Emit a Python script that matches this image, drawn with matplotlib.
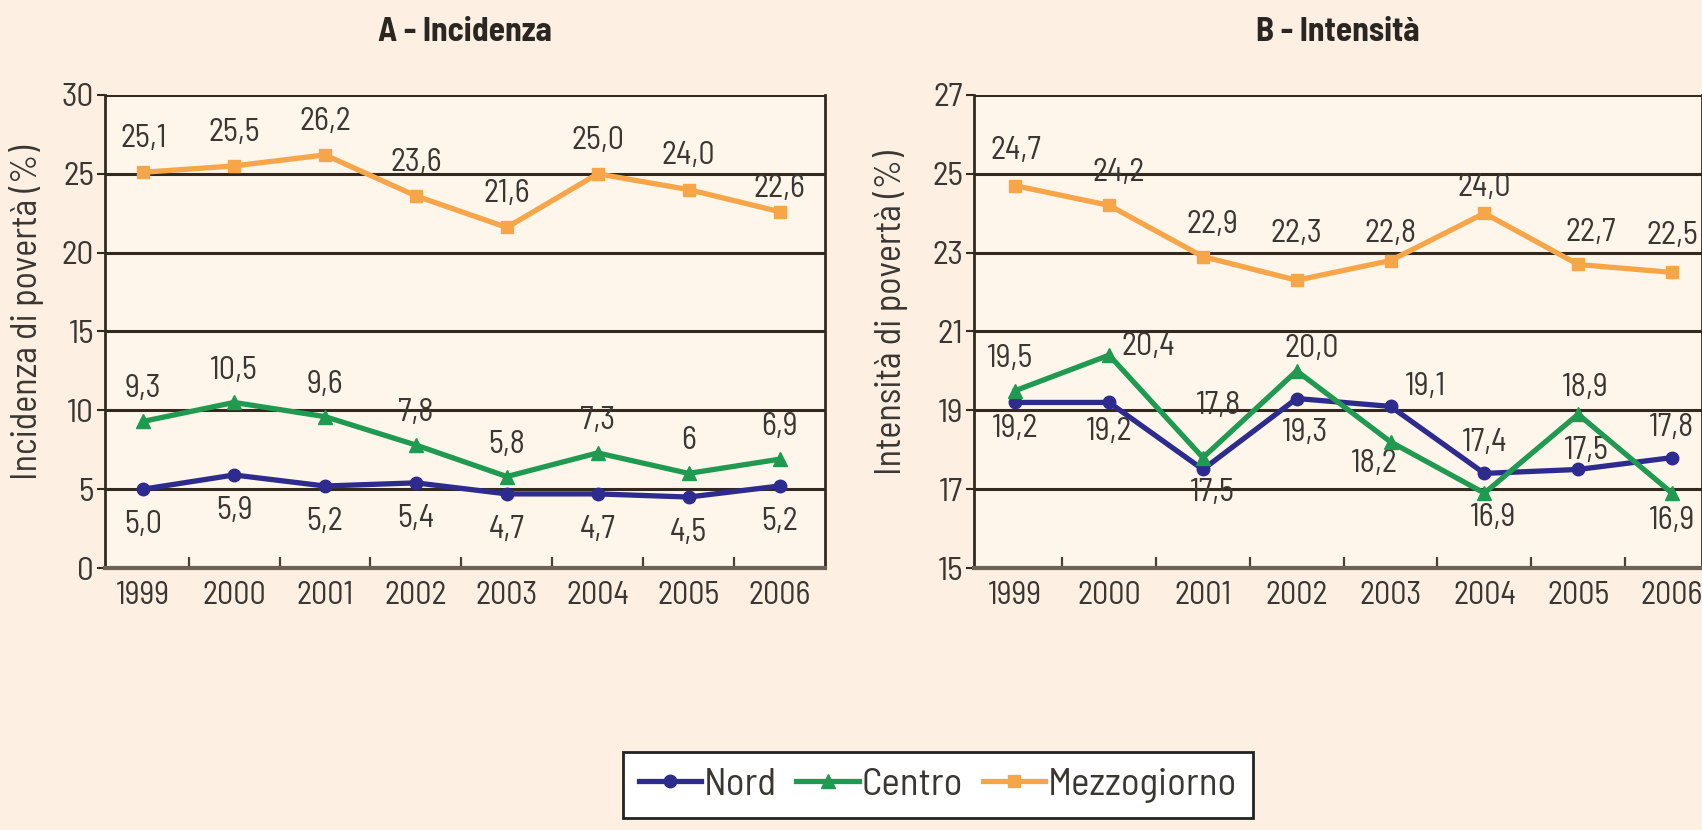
import matplotlib
matplotlib.use('Agg')
import matplotlib.pyplot as plt
from matplotlib.ticker import FixedLocator

# ---------------- data ----------------
years = ['1999', '2000', '2001', '2002', '2003', '2004', '2005', '2006']

inc_nord = [5.0, 5.9, 5.2, 5.4, 4.7, 4.7, 4.5, 5.2]
inc_centro = [9.3, 10.5, 9.6, 7.8, 5.8, 7.3, 6, 6.9]
inc_mezzo = [25.1, 25.5, 26.2, 23.6, 21.6, 25.0, 24.0, 22.6]

int_nord = [19.2, 19.2, 17.5, 19.3, 19.1, 17.4, 17.5, 17.8]
int_centro = [19.5, 20.4, 17.8, 20.0, 18.2, 16.9, 18.9, 16.9]
int_mezzo = [24.7, 24.2, 22.9, 22.3, 22.8, 24.0, 22.7, 22.5]

series_names = ['Nord', 'Centro', 'Mezzogiorno']

# ---------------- styles ----------------
FAM = ['Barlow Semi Condensed', 'Barlow Condensed', 'DejaVu Sans']
BG = '#fdf0e2'
AXBG = '#fef5eb'
GRID = '#33291f'
TXT = '#3a3632'
colors = {'Nord': '#2e2b8f', 'Centro': '#1f9a50', 'Mezzogiorno': '#f6a649'}
markers = {'Nord': 'o', 'Centro': '^', 'Mezzogiorno': 's'}
msizes = {'Nord': 9, 'Centro': 10, 'Mezzogiorno': 8}
LBL = 23

# label offsets in points (dx, dy)
left_offsets = {
    'Nord': [(0, -26)] * 8,
    'Centro': [(0, 23)] * 8,
    'Mezzogiorno': [(0, 24)] * 7 + [(0, 16)],
}
right_offsets = {
    'Nord': [(0, -19), (0, -21), (7, -17), (6, -25), (25, 14), (0, 22), (6, 13), (0, 21)],
    'Centro': [(-4, 23), (28, 6), (11, 37), (11, 16), (-12, -16), (6, -18), (5, 19), (0, -20)],
    'Mezzogiorno': [(0, 25), (7, 23), (7, 23), (0, 33), (0, 19), (0, 18), (9, 23), (0, 26)],
}


def fmt(v):
    if isinstance(v, int):
        return str(v)
    return f"{v:.1f}".replace('.', ',')


plt.rcParams['font.family'] = FAM

fig = plt.figure(figsize=(17.02, 8.30), dpi=100, facecolor=BG)

W, H = 1702.0, 830.0
axL = fig.add_axes([105 / W, 1 - 568 / H, 720 / W, (568 - 95) / H])
axR = fig.add_axes([974 / W, 1 - 568 / H, 728 / W, (568 - 95) / H])


def draw_panel(ax, data, offsets, ylim, yticks, xlim, title, ylabel, ylx):
    ax.set_facecolor(AXBG)
    x = list(range(len(years)))
    for name in series_names:
        vals = data[name]
        ax.plot(x, vals, color=colors[name], lw=3.8, marker=markers[name],
                ms=msizes[name], mec=colors[name], zorder=4)
        for xi, v, (dx, dy) in zip(x, vals, offsets[name]):
            ax.annotate(fmt(v), (xi, v), xytext=(dx, dy), textcoords='offset points',
                        ha='center', va='center', fontsize=LBL, color=TXT,
                        zorder=3)
    ax.set_ylim(*ylim)
    ax.set_xlim(*xlim)
    ax.set_yticks(yticks)
    ax.set_yticklabels([str(t) for t in yticks], fontsize=24, color=TXT)
    for t in yticks[1:]:
        ax.axhline(t, color=GRID, lw=2.2, zorder=1)
    ax.set_xticks(x)
    ax.set_xticklabels(years, fontsize=LBL, color=TXT)
    ax.xaxis.set_minor_locator(FixedLocator([i + 0.5 for i in range(len(years) - 1)]))
    ax.tick_params(axis='x', which='major', length=0, pad=9)
    ax.tick_params(axis='x', which='minor', length=8, width=1.6, direction='in',
                   color='#4a3f35')
    ax.tick_params(axis='y', length=6, width=1.5, direction='out', pad=2,
                   color='#33291f')
    for s in ['left', 'right']:
        ax.spines[s].set_color('#33291f')
        ax.spines[s].set_linewidth(2)
    ax.spines['top'].set_visible(False)
    ax.spines['bottom'].set_color('#6e6256')
    ax.spines['bottom'].set_linewidth(3)
    ax.set_ylabel(ylabel, fontsize=26, color=TXT)
    ax.yaxis.set_label_coords(ylx, 0.54)
    ax.text(0.5, 1 + 63 / 473, title, transform=ax.transAxes, ha='center',
            va='center', fontsize=24, fontweight='bold', color='#2a2622')


draw_panel(axL, {'Nord': inc_nord, 'Centro': inc_centro, 'Mezzogiorno': inc_mezzo},
           left_offsets, (0, 30), [0, 5, 10, 15, 20, 25, 30], (-0.42, 7.5),
           'A - Incidenza', 'Incidenza di povertà (%)', -0.085)
draw_panel(axR, {'Nord': int_nord, 'Centro': int_centro, 'Mezzogiorno': int_mezzo},
           right_offsets, (15, 27), [15, 17, 19, 21, 23, 25, 27], (-0.44, 7.32),
           'B - Intensità', 'Intensità di povertà (%)', -0.09)

handles = [plt.Line2D([], [], color=colors[n], lw=3.8, marker=markers[n],
                      ms=msizes[n]) for n in series_names]
leg = fig.legend(handles, series_names, loc='upper left', ncol=3,
                 bbox_to_anchor=(623 / W, 1 - 752 / H), frameon=True,
                 fancybox=False, edgecolor='#222222', facecolor='white',
                 framealpha=1, fontsize=28, handlelength=1.6, handletextpad=0.08,
                 columnspacing=0.5, borderpad=0.4, borderaxespad=0)
leg.get_frame().set_linewidth(2)
for t in leg.get_texts():
    t.set_color(TXT)

fig.savefig('out.png', dpi=100, facecolor=BG)
